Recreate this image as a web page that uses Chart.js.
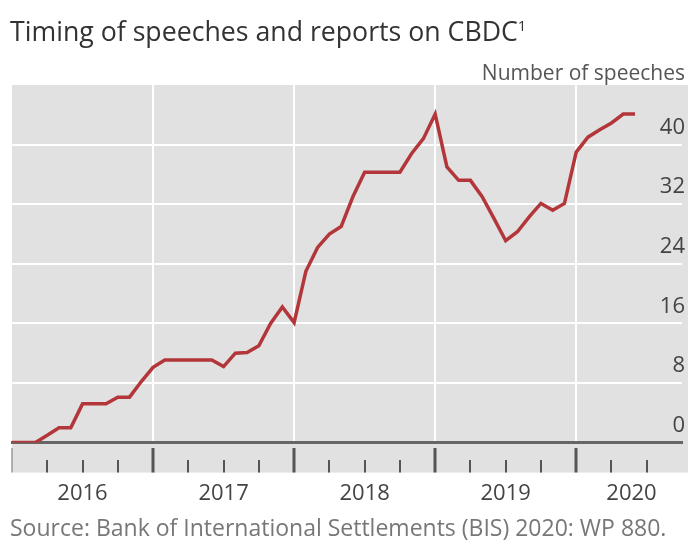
<!DOCTYPE html>
<html>
<head>
<meta charset="utf-8">
<title>Timing of speeches and reports on CBDC</title>
<script src="https://cdn.jsdelivr.net/npm/chart.js@4.4.1/dist/chart.umd.min.js"></script>
<style>
    html, body { margin: 0; padding: 0; background: #fff; }
    body { width: 688px; height: 540px; position: relative; overflow: hidden; font-family: "Open Sans", sans-serif; }
    #speechChart { position: absolute; left: 0; top: 0; }
    .chart-title { position: absolute; left: 10px; top: 16px; font-size: 26.7px; line-height: 30px; color: #333; white-space: nowrap; }
    .chart-title sup { font-size: 15px; vertical-align: 10px; line-height: 0; }
    .unit-label { position: absolute; right: 3px; top: 60px; font-size: 21px; line-height: 24px; color: #555; }
    .source { position: absolute; left: 10px; top: 514px; font-size: 23px; line-height: 26px; color: #777; white-space: nowrap; }
</style>
</head>
<body>
<canvas id="speechChart" width="688" height="540"></canvas>
<div class="chart-title">Timing of speeches and reports on CBDC<sup>1</sup></div>
<div class="unit-label">Number of speeches</div>
<div class="source">Source: Bank of International Settlements (BIS) 2020: WP 880.</div>

<script>
// Monthly count of speeches, Jan 2016 onwards
const months = [
    'Jan 2016', 'Feb 2016', 'Mar 2016', 'Apr 2016', 'May 2016', 'Jun 2016',
    'Jul 2016', 'Aug 2016', 'Sep 2016', 'Oct 2016', 'Nov 2016', 'Dec 2016',
    'Jan 2017', 'Feb 2017', 'Mar 2017', 'Apr 2017', 'May 2017', 'Jun 2017',
    'Jul 2017', 'Aug 2017', 'Sep 2017', 'Oct 2017', 'Nov 2017', 'Dec 2017',
    'Jan 2018', 'Feb 2018', 'Mar 2018', 'Apr 2018', 'May 2018', 'Jun 2018',
    'Jul 2018', 'Aug 2018', 'Sep 2018', 'Oct 2018', 'Nov 2018', 'Dec 2018',
    'Jan 2019', 'Feb 2019', 'Mar 2019', 'Apr 2019', 'May 2019', 'Jun 2019',
    'Jul 2019', 'Aug 2019', 'Sep 2019', 'Oct 2019', 'Nov 2019', 'Dec 2019',
    'Jan 2020', 'Feb 2020', 'Mar 2020', 'Apr 2020', 'May 2020', 'Jun 2020'
];
const speeches = [
    0, 0, 0, 1, 2, 2, 5.2, 5.2, 5.2, 6.1, 6.1, 8.2,
    10.1, 11.1, 11.1, 11.1, 11.1, 11.1, 10.2, 12, 12.1, 13, 16, 18.2,
    16.1, 23, 26.2, 28, 29, 33, 36.3, 36.3, 36.3, 36.3, 38.8, 40.8,
    44.1, 37, 35.2, 35.2, 33, 30.1, 27.1, 28.3, 30.3, 32.1, 31.2, 32.1,
    39, 41, 42, 42.9, 44.1, 44.1
];
const yearLabels = ['2016', '2017', '2018', '2019', '2020'];
const yearLabelAt = [6, 18, 30, 42, 52.7]; // 2020 label sits mid of the visible part of the year
const yTickValues = [0, 8, 16, 24, 32, 40, 48];

const monthsShown = 57.0; // axis runs a little past the last year
const quarterTicks = [];
for (let m = 0; m <= 54; m += 3) quarterTicks.push(m);

const isYearStart = v => Number.isInteger(v) && v % 12 === 0;
const isQuarter = v => quarterTicks.includes(v);

// Grey panel behind plot and the tick strip below it
const plotBackground = {
    id: 'plotBackground',
    beforeDraw(chart) {
        const { ctx, chartArea } = chart;
        ctx.save();
        ctx.fillStyle = '#e1e1e1';
        ctx.fillRect(chartArea.left, chartArea.top, chart.width - chartArea.left, chartArea.bottom + 30 - chartArea.top);
        ctx.restore();
    }
};

new Chart(document.getElementById('speechChart'), {
    type: 'line',
    data: {
        datasets: [{
            label: 'Number of speeches',
            data: speeches.map((v, i) => ({ x: i, y: v })),
            borderColor: '#b3363a',
            borderWidth: 3.5,
            pointRadius: 0,
            tension: 0,
            fill: false
        }]
    },
    options: {
        responsive: false,
        animation: false,
        devicePixelRatio: 1,
        events: [],
        layout: { padding: { left: 12, right: 0, top: 85, bottom: 25 } },
        plugins: {
            legend: { display: false },
            tooltip: { enabled: false },
            title: { display: false }
        },
        scales: {
            x: {
                type: 'linear',
                min: 0,
                max: monthsShown,
                afterBuildTicks: scale => {
                    const all = quarterTicks.concat(yearLabelAt.filter(v => !quarterTicks.includes(v)));
                    all.sort((a, b) => a - b);
                    scale.ticks = all.map(v => ({ value: v }));
                },
                ticks: {
                    autoSkip: false,
                    maxRotation: 0,
                    padding: 8,
                    color: '#444',
                    font: { family: 'Open Sans', size: 22 },
                    callback: value => {
                        const idx = yearLabelAt.indexOf(value);
                        return idx >= 0 && (idx < 4) ? yearLabels[idx] : (idx === 4 ? yearLabels[4] : '');
                    }
                },
                grid: {
                    color: ctx => (ctx.tick && ctx.tick.value > 0 && isYearStart(ctx.tick.value) ? '#ffffff' : 'rgba(0,0,0,0)'),
                    lineWidth: 2,
                    tickLength: 30,
                    tickColor: ctx => {
                        if (!ctx.tick || !isQuarter(ctx.tick.value)) return 'rgba(0,0,0,0)';
                        return ctx.tick.value === 0 ? '#9a9a9a' : '#555';
                    },
                    tickWidth: ctx => (ctx.tick && isYearStart(ctx.tick.value) ? (ctx.tick.value === 0 ? 1.5 : 3) : 2),
                    tickBorderDash: ctx => (ctx.tick && isYearStart(ctx.tick.value) ? [0, 4, 26, 40] : [0, 16, 13, 40])
                },
                border: { display: true, color: '#666', width: 3 }
            },
            y: {
                position: 'right',
                min: 0,
                max: 48,
                afterBuildTicks: scale => { scale.ticks = yTickValues.map(v => ({ value: v })); },
                ticks: {
                    mirror: true,
                    padding: 3,
                    labelOffset: -17,
                    color: '#444',
                    font: { family: 'Open Sans', size: 22 },
                    callback: value => (value === 48 ? '' : String(value))
                },
                grid: {
                    drawTicks: false,
                    color: ctx => (ctx.tick && (ctx.tick.value === 0 || ctx.tick.value === 48) ? 'rgba(0,0,0,0)' : '#ffffff'),
                    lineWidth: 2
                },
                border: { display: false }
            }
        }
    },
    plugins: [plotBackground]
});
</script>
</body>
</html>
